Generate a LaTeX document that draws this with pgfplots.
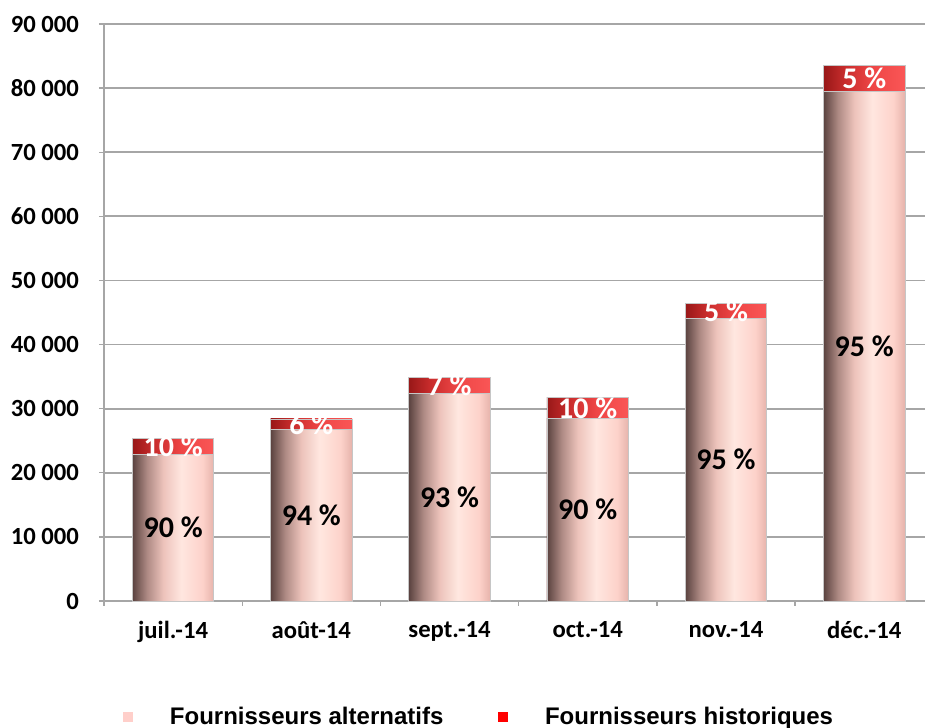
\documentclass[border=0pt]{standalone}
\usepackage{fontspec}
\setmainfont{Carlito}
\newfontfamily\arialfont{Liberation Sans}
\usepackage{pgfplots}
\pgfplotsset{compat=1.18}

\definecolor{altA}{HTML}{5A423F}
\definecolor{altB}{HTML}{AE8A84}
\definecolor{altC}{HTML}{EDC3BB}
\definecolor{altD}{HTML}{FFE7E0}
\definecolor{altE}{HTML}{FDD2CA}
\definecolor{altF}{HTML}{E6B3AB}
\definecolor{histA}{HTML}{981818}
\definecolor{histB}{HTML}{C82C2C}
\definecolor{histC}{HTML}{EE4646}
\definecolor{histD}{HTML}{FA5656}
\definecolor{gridgray}{HTML}{A6A6A6}
\definecolor{legalt}{HTML}{FFCFCA}
\definecolor{leghist}{HTML}{FF0000}

\pgfdeclarehorizontalshading{altshade}{100bp}{color(0bp)=(altA); color(25bp)=(altA); color(34bp)=(altB); color(44bp)=(altC); color(55bp)=(altD); color(68bp)=(altE); color(75bp)=(altF); color(100bp)=(altF)}
\pgfdeclarehorizontalshading{histshade}{100bp}{color(0bp)=(histA); color(25bp)=(histA); color(38bp)=(histB); color(55bp)=(histC); color(75bp)=(histD); color(100bp)=(histD)}

\pgfplotsset{
  altbar/.style={ybar, bar width=0.59, bar shift=0pt, shading=altshade, draw=gray!45, line width=0.6pt, forget plot},
  histbar/.style={ybar, bar width=0.59, bar shift=0pt, shading=histshade, draw=gray!45, line width=0.6pt, forget plot},
}
\tikzset{
  pct/.style={font=\bfseries\fontsize{22.5}{22.5}\selectfont, text=black},
  pctw/.style={font=\bfseries\fontsize{22.5}{22.5}\selectfont, text=white},
}

\begin{document}
\begin{tikzpicture}
\useasboundingbox (0,0) rectangle (693.75pt,546pt);
\begin{axis}[
  at={(78pt,95.25pt)}, anchor=south west,
  scale only axis, width=615.75pt, height=432.75pt,
  xmin=-0.5, xmax=5.44, ymin=0, ymax=90000,
  scaled y ticks=false,
  axis x line*=bottom, axis y line*=left,
  axis line style={gridgray, line width=1.5pt, -},
  ymajorgrids, grid style={gridgray, line width=1.3pt},
  ytick={0,10000,20000,30000,40000,50000,60000,70000,80000,90000},
  yticklabels={0,10 000,20 000,30 000,40 000,50 000,60 000,70 000,80 000,90 000},
  xtick={0,1,2,3,4,5},
  xticklabels={juil.-14,août-14,sept.-14,oct.-14,nov.-14,déc.-14},
  minor xtick={-0.5,0.5,1.5,2.5,3.5,4.5},
  tick align=outside,
  major tick length=3.75pt, minor tick length=3.75pt,
  x tick style={draw=none}, minor x tick style={draw=gridgray, line width=1pt},
  y tick style={gridgray, line width=1pt},
  tick label style={font=\bfseries\fontsize{18.5}{18.5}\selectfont},
  yticklabel style={xshift=-11.5pt},
  xticklabel style={yshift=-8pt},
  legend style={at={(axis description cs:0.0231,-0.201)}, anchor=west, draw=none, fill=none,
    inner sep=0pt, outer sep=0pt, nodes={inner sep=0pt},
    font=\arialfont\bfseries\fontsize{18}{18}\selectfont, legend columns=2,
    /tikz/every odd column/.append style={column sep=27.75pt},
    /tikz/every even column/.append style={column sep=41pt}},
  legend image code/.code={\fill[#1, draw=none] (0pt,-3.75pt) rectangle (7.5pt,3.75pt);},
  clip=false
]
% juil.-14
\addplot[histbar] coordinates {(0,25400)};
\addplot[altbar] coordinates {(0,22860)};
% août-14
\addplot[histbar] coordinates {(1,28400)};
\addplot[altbar] coordinates {(1,26700)};
% sept.-14
\addplot[histbar] coordinates {(2,34800)};
\addplot[altbar] coordinates {(2,32360)};
% oct.-14
\addplot[histbar] coordinates {(3,31700)};
\addplot[altbar] coordinates {(3,28530)};
% nov.-14
\addplot[histbar] coordinates {(4,46400)};
\addplot[altbar] coordinates {(4,44080)};
% déc.-14
\addplot[histbar] coordinates {(5,83600)};
\addplot[altbar] coordinates {(5,79420)};

\addlegendimage{fill=legalt, draw=none}
\addlegendentry{Fournisseurs alternatifs}
\addlegendimage{fill=leghist, draw=none}
\addlegendentry{Fournisseurs historiques}

\node[pct] at (axis cs:0,11430) {90 \%};
\node[pct] at (axis cs:1,13350) {94 \%};
\node[pct] at (axis cs:2,16180) {93 \%};
\node[pct] at (axis cs:3,14265) {90 \%};
\node[pct] at (axis cs:4,22040) {95 \%};
\node[pct] at (axis cs:5,39710) {95 \%};
\node[pctw] at (axis cs:0,24130) {10 \%};
\node[pctw] at (axis cs:1,27550) {6 \%};
\node[pctw] at (axis cs:2,33580) {7 \%};
\node[pctw] at (axis cs:3,30115) {10 \%};
\node[pctw] at (axis cs:4,45240) {5 \%};
\node[pctw] at (axis cs:5,81510) {5 \%};
\end{axis}
\end{tikzpicture}
\end{document}
